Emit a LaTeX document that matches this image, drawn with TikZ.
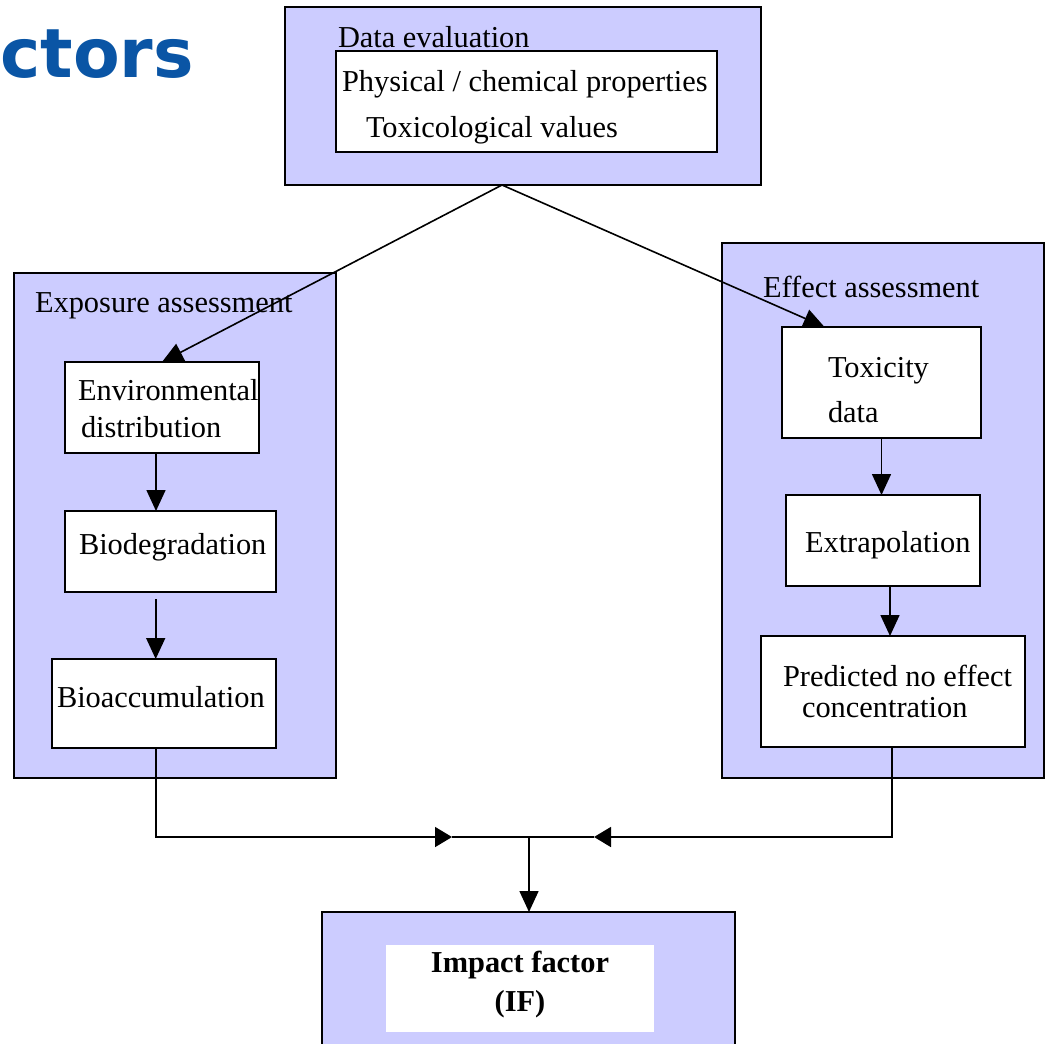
\documentclass[tikz,border=0pt]{standalone}
\usepackage{fontspec}
\setmainfont{Liberation Serif}
\newfontfamily\titlefont{DejaVu Sans}
\usetikzlibrary{arrows.meta}
\definecolor{lav}{RGB}{204,204,255}
\definecolor{titleblue}{RGB}{10,85,165}
\begin{document}
\begin{tikzpicture}[x=1pt,y=-1pt,
  obox/.style={draw=black,fill=lav,line width=1.7pt,inner sep=0pt,outer sep=0pt},
  wbox/.style={draw=black,fill=white,line width=1.7pt,inner sep=0pt,outer sep=0pt},
  plainw/.style={fill=white,inner sep=0pt,outer sep=0pt},
  txt/.style={inner sep=0pt,outer sep=0pt,font=\fontsize{30.4}{36}\selectfont},
  btxt/.style={inner sep=0pt,outer sep=0pt,font=\bfseries\fontsize{30.4}{36}\selectfont},
  conn/.style={line width=1.6pt,draw=black},
  arr/.style={conn,-{Triangle[length=21pt,width=19pt]}},
  harr/.style={conn,-{Triangle[length=17pt,width=20pt]}}]
\clip (0,0) rectangle (1047,1044);
\fill[white] (0,0) rectangle (1047,1044);

% title fragment
\node[anchor=base west,inner sep=0pt,text=titleblue,font=\titlefont\bfseries\fontsize{68}{76}\selectfont] (ttl) at (0,77) {ctors};

% outer boxes
\node[obox,minimum width=476pt,minimum height=178pt] (de) at (523,96) {};
\node[obox,minimum width=322pt,minimum height=505pt] (ea) at (175,525.5) {};
\node[obox,minimum width=322pt,minimum height=535pt] (ef) at (883,510.5) {};
\node[obox,minimum width=413pt,minimum height=160pt] (imp) at (528.5,992) {};

% inner boxes
\node[wbox,minimum width=381pt,minimum height=101pt] (dein) at (526.5,101.5) {};
\node[wbox,minimum width=194pt,minimum height=91pt] (env) at (162,407.5) {};
\node[wbox,minimum width=211pt,minimum height=81pt] (bio) at (170.5,551.5) {};
\node[wbox,minimum width=224pt,minimum height=89pt] (bioacc) at (164,703.5) {};
\node[wbox,minimum width=199pt,minimum height=111pt] (tox) at (881.5,382.5) {};
\node[wbox,minimum width=194pt,minimum height=91pt] (ext) at (883,540.5) {};
\node[wbox,minimum width=264pt,minimum height=111pt] (pnec) at (893,691.5) {};
\node[plainw,minimum width=268pt,minimum height=87pt] (ifin) at (520,988.5) {};

% texts
\node[txt,anchor=base west] (tde) at (338,47) {Data evaluation};
\node[txt,anchor=base west] (tphys) at (342,91) {Physical / chemical properties};
\node[txt,anchor=base west] (ttoxv) at (366,137) {Toxicological values};
\node[txt,anchor=base west] (tea) at (35,312) {Exposure assessment};
\node[txt,anchor=base west] (tenv1) at (78,400) {Environmental};
\node[txt,anchor=base west] (tenv2) at (81,437.5) {distribution};
\node[txt,anchor=base west] (tbio) at (79,554) {Biodegradation};
\node[txt,anchor=base west] (tbioacc) at (57,707) {Bioaccumulation};
\node[txt,anchor=base west] (tef) at (763,297) {Effect assessment};
\node[txt,anchor=base west] (ttox1) at (828,377) {Toxicity};
\node[txt,anchor=base west] (ttox2) at (828,422) {data};
\node[txt,anchor=base west] (text) at (805,552.5) {Extrapolation};
\node[txt,anchor=base west] (tpn1) at (783,686) {Predicted no effect};
\node[txt,anchor=base west] (tpn2) at (802,717) {concentration};
\node[btxt,anchor=base] (tif1) at (520,972) {Impact factor};
\node[btxt,anchor=base] (tif2) at (520,1011) {(IF)};

% connectors
\coordinate (split) at (502,185);
\coordinate (jl) at (452,837);
\coordinate (jr) at (594,837);
\coordinate (jm) at (529,837);
\draw[arr] (split) -- (env.north);
\draw[arr] (split) -- ([xshift=-57pt]tox.north);
\draw[arr] ([xshift=-6pt]env.south) -- ([xshift=-6pt]env.south |- bio.north);
\draw[arr] ([xshift=-14.8pt,yshift=-7pt]bio.south) -- ([xshift=-14.8pt]bio.south |- bioacc.north);
\draw[arr] (tox.south) -- (tox.south |- ext.north);
\draw[arr] ([xshift=7pt]ext.south) -- ([xshift=7pt]ext.south |- pnec.north);
\draw[harr] ([xshift=-8.3pt]bioacc.south) |- (jl);
\draw[harr] ([xshift=-1pt]pnec.south) |- (jr);
\draw[conn] (jl) -- (jr);
\draw[arr] (jm) -- (jm |- imp.north);
\end{tikzpicture}
\end{document}
